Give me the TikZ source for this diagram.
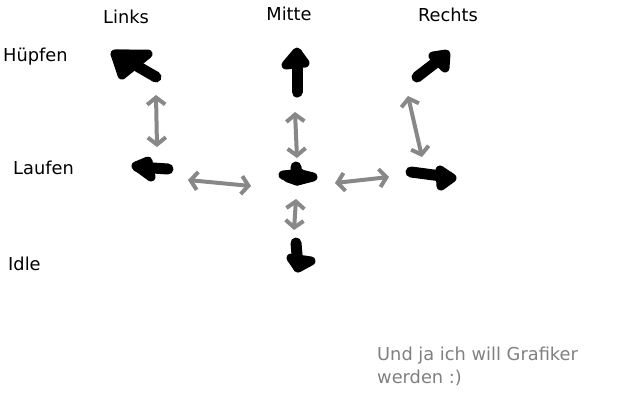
\documentclass[tikz,border=0pt]{standalone}
\usepackage{fontspec}
\setmainfont{DejaVu Sans}
\usetikzlibrary{calc,arrows.meta}
\definecolor{sketchgray}{RGB}{136,136,136}
\definecolor{textgray}{RGB}{128,128,128}
\tikzset{
  blackshaft/.style={line width=11pt,line cap=round,line join=round,black},
  blackhead/.style={line width=9pt,line cap=round,line join=round,draw=black,fill=black},
  conn/.style={draw=sketchgray,line width=4pt,line cap=round,
    {Straight Barb[length=7pt,width=18pt]}-{Straight Barb[length=7pt,width=18pt]}},
  lbl/.style={font=\fontsize{17.8}{23}\selectfont,inner sep=0pt},
}
\begin{document}
\begin{tikzpicture}[x=1pt,y=-1pt]
\useasboundingbox (0,0) rectangle (640,400);
% labels
\node[lbl] (tlinks) at (126,17) {Links};
\node[lbl] (tmitte) at (289,14) {Mitte};
\node[lbl] (trechts) at (448,15) {Rechts};
\node[lbl,anchor=west] (thuepfen) at (3,57) {Hüpfen};
\node[lbl,anchor=west] (tlaufen) at (13,168) {Laufen};
\node[lbl,anchor=west] (tidle) at (8,264) {Idle};
\node[lbl,anchor=north west,align=left,text=textgray] (tnote) at (377,347) {Und ja ich will Grafiker\\werden :)};
% state positions
\coordinate (lh) at (136,65);
\coordinate (ll) at (152,168);
\coordinate (mh) at (296,72);
\coordinate (ml) at (297,176);
\coordinate (mi) at (298,258);
\coordinate (rh) at (432,66);
\coordinate (rl) at (432,176);
% black arrows
\begin{scope}[shift={(lh)}]
  \draw[blackshaft] (20,12) -- (-18,-10);
  \filldraw[blackhead] (-21,-11) -- (12,-11) -- (-14,10) -- cycle;
  \filldraw[blackhead] (-21,-11) -- (-8,-11) -- (-14,-2) -- cycle;
\end{scope}
\begin{scope}[shift={(ll)}]
  \draw[blackshaft] (16,1) -- (-14,-1);
  \filldraw[blackhead] (-16,-2) -- (-4,-7) -- (-1,9) -- cycle;
\end{scope}
\begin{scope}[shift={(mh)}]
  \draw[blackshaft] (1,20) -- (1,-18);
  \filldraw[blackhead] (1,-20) -- (-10,-7) -- (9,-9) -- cycle;
\end{scope}
\begin{scope}[shift={(ml)}]
  \draw[blackshaft] (-1,-9) -- (0,4);
  \filldraw[blackhead] (0,5) -- (-14,-1) -- (-4,-2) -- (4,-2) -- (16,1) -- cycle;
  \filldraw[blackhead] (-9,2) -- (0,-5) -- (10,2) -- (0,5) -- cycle;
\end{scope}
\begin{scope}[shift={(mi)}]
  \draw[blackshaft] (-2,-15) -- (0,9);
  \filldraw[blackhead] (0,10) -- (-7,0) -- (13,3) -- cycle;
\end{scope}
\begin{scope}[shift={(rh)}]
  \draw[blackshaft] (-15,11) -- (-6,4) -- (11,-9);
  \filldraw[blackhead] (14,-12) -- (1,-10) -- (13,2) -- cycle;
\end{scope}
\begin{scope}[shift={(rl)}]
  \draw[blackshaft] (-21,-4) -- (17,1);
  \filldraw[blackhead] (20,2) -- (8,-6) -- (9,10) -- cycle;
\end{scope}
% gray connectors
\draw[conn] ($(lh)+(20,30)$) -- ($(ll)+(5,-21)$);
\draw[conn] ($(mh)+(-1,40)$) -- ($(ml)+(0,-18)$);
\draw[conn] ($(ml)+(-1,23)$) -- ($(mi)+(-4,-28)$);
\draw[conn] ($(ll)+(36,12)$) -- ($(ml)+(-46,10)$);
\draw[conn] ($(ml)+(38,7)$) -- ($(rl)+(-43,1)$);
\draw[conn] ($(rh)+(-24,30)$) -- ($(rl)+(-10,-19)$);
\end{tikzpicture}
\end{document}
